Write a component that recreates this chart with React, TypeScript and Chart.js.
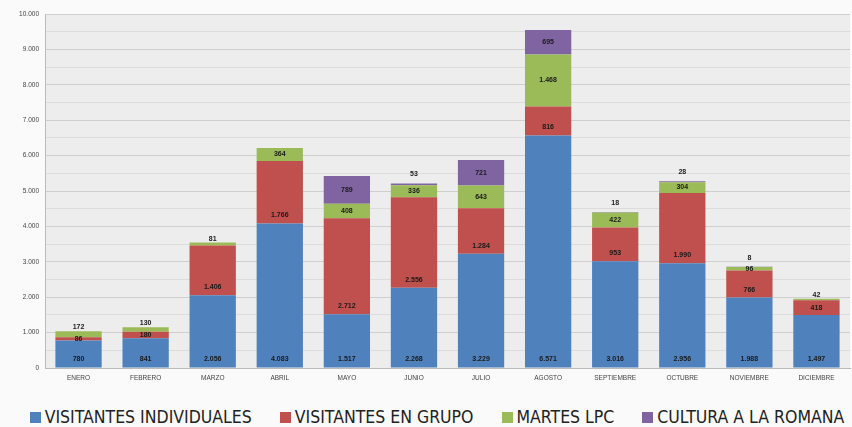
import React, { useEffect, useRef } from "react";
import { Chart, registerables } from "chart.js";

Chart.register(...registerables);

const CATEGORIES = ["ENERO", "FEBRERO", "MARZO", "ABRIL", "MAYO", "JUNIO", "JULIO", "AGOSTO", "SEPTIEMBRE", "OCTUBRE", "NOVIEMBRE", "DICIEMBRE"];
const INDIVIDUALES = [780, 841, 2056, 4083, 1517, 2268, 3229, 6571, 3016, 2956, 1988, 1497];
const GRUPO = [86, 180, 1406, 1766, 2712, 2556, 1284, 816, 953, 1990, 766, 418];
const MARTES = [172, 130, 81, 364, 408, 336, 643, 1468, 422, 304, 96, 42];
const CULTURA = [0, 0, 0, 0, 789, 53, 721, 695, 18, 28, 8, 0];
const SERIES_NAMES = ["VISITANTES INDIVIDUALES", "VISITANTES EN GRUPO", "MARTES LPC", "CULTURA A LA ROMANA"];
const COLORS = ["#4F81BD", "#C0504D", "#9BBB59", "#8064A2"];

function fmt(n: number): string {
  return String(Math.round(n)).replace(/\B(?=(\d{3})+(?!\d))/g, ".");
}

const bgPlugin = {
  id: "plotBg",
  beforeDraw(chart: any) {
    const { ctx, chartArea } = chart;
    ctx.save();
    ctx.fillStyle = "#EDEDED";
    ctx.fillRect(chartArea.left, chartArea.top, chartArea.right - chartArea.left, chartArea.bottom - chartArea.top);
    ctx.restore();
  },
};

const labelPlugin = {
  id: "segLabels",
  afterDatasetsDraw(chart: any) {
    const { ctx } = chart;
    ctx.save();
    ctx.font = "bold 7px 'Liberation Sans'";
    ctx.textAlign = "center";
    ctx.textBaseline = "middle";
    ctx.fillStyle = "#1a1a1a";
    const purple = chart.data.datasets[3].data;
    chart.data.datasets.forEach((ds: any, i: number) => {
      const meta = chart.getDatasetMeta(i);
      meta.data.forEach((bar: any, j: number) => {
        const v = ds.data[j];
        if (!v) return;
        const top = bar.y;
        const base = bar.base;
        const h = base - top;
        let y: number;
        if (i === 0) y = base - 8;
        else if (i === 1) y = h > 20 ? base - 8 : (top + base) / 2;
        else if (i === 2) y = h >= 9 || purple[j] > 0 ? (top + base) / 2 : top - 4;
        else y = h >= 9 ? (top + base) / 2 : top - 9;
        ctx.fillText(fmt(v), bar.x, y);
      });
    });
    ctx.restore();
  },
};

export default function App() {
  const ref = useRef<HTMLCanvasElement | null>(null);
  useEffect(() => {
    document.body.style.margin = "0";
    const series = [INDIVIDUALES, GRUPO, MARTES, CULTURA];
    const chart = new Chart(ref.current as HTMLCanvasElement, {
      type: "bar",
      data: {
        labels: CATEGORIES,
        datasets: series.map((d, i) => ({
          label: SERIES_NAMES[i],
          data: d,
          backgroundColor: COLORS[i],
          borderWidth: 0,
          categoryPercentage: 1,
          barPercentage: 0.69,
        })),
      },
      options: {
        animation: false,
        responsive: false,
        maintainAspectRatio: false,
        layout: { padding: { top: 14, right: 2, left: 0, bottom: 4 } },
        plugins: {
          tooltip: { enabled: false },
          legend: { display: false },
        },
        scales: {
          x: {
            stacked: true,
            grid: { display: false, drawTicks: false },
            border: { display: true, color: "#BBBBBB" },
            ticks: { color: "#444", font: { size: 6.5, family: "'Liberation Sans'" }, padding: 6, maxRotation: 0, autoSkip: false },
            afterFit(scale: any) { scale.height = 15; },
          },
          y: {
            stacked: true,
            min: 0,
            max: 10000,
            ticks: {
              stepSize: 500,
              color: "#444",
              font: { size: 6.5, family: "'Liberation Sans'" },
              padding: 6,
              callback: (v: any) => (Number(v) % 1000 === 0 ? fmt(Number(v)) : ""),
            },
            grid: {
              color: (c: any) => (c.tick && c.tick.value % 1000 === 0 ? "#CFCFCF" : "#DCDCDC"),
              drawTicks: false,
            },
            border: { display: true, color: "#BBBBBB" },
            afterFit(scale: any) { scale.width = 45; },
          },
        },
      },
      plugins: [bgPlugin, labelPlugin],
    });
    return () => chart.destroy();
  }, []);
  return (
    <div style={{ width: 852, height: 427, background: "#FAFAFA" }}>
      <canvas ref={ref} width={852} height={387} style={{ display: "block" }} />
      <div
        style={{
          height: 40,
          display: "flex",
          alignItems: "center",
          justifyContent: "center",
          gap: 28,
          paddingTop: 20,
          paddingLeft: 22,
          boxSizing: "border-box",
          fontFamily: "'DejaVu Sans Condensed', 'DejaVu Sans'",
          fontStretch: "condensed",
          fontSize: 17.5,
          color: "#222",
        }}
      >
        {SERIES_NAMES.map((name, i) => (
          <div key={name} style={{ display: "flex", alignItems: "center" }}>
            <span style={{ display: "inline-block", width: 11, height: 11, background: COLORS[i], marginRight: 4 }} />
            <span style={{ whiteSpace: "nowrap" }}>{name}</span>
          </div>
        ))}
      </div>
    </div>
  );
}
